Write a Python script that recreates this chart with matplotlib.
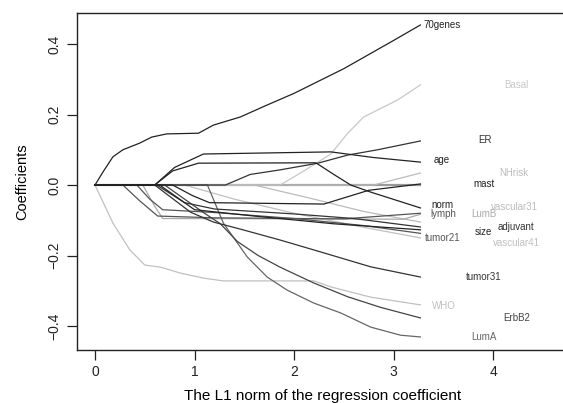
#!/usr/bin/env python
import numpy as np
import matplotlib
matplotlib.use("Agg")
import matplotlib.pyplot as plt

plt.rcParams['font.family'] = ['Liberation Sans', 'DejaVu Sans']

# coefficient paths: (L1 norm, coefficient) knots
genes70 = [(0, 0), (0.08, 0.037), (0.18, 0.08), (0.28, 0.10), (0.45, 0.119), (0.57, 0.136), (0.72, 0.145),
           (1.04, 0.147), (1.19, 0.17), (1.46, 0.193), (1.73, 0.227), (2.0, 0.26), (2.5, 0.33), (3.0, 0.41), (3.27, 0.454)]
basal = [(0, 0), (1.86, 0), (2.1, 0.04), (2.37, 0.088), (2.54, 0.147), (2.7, 0.193), (3.04, 0.241), (3.27, 0.284)]
er = [(0, 0), (1.31, 0), (1.56, 0.03), (1.86, 0.043), (2.24, 0.062), (2.54, 0.085), (2.84, 0.10), (3.27, 0.125)]
age = [(0, 0), (0.6, 0), (0.8, 0.05), (1.09, 0.088), (2.37, 0.094), (2.8, 0.078), (3.27, 0.065)]
nhrisk = [(0, 0), (2.8, 0), (3.27, 0.034)]
mast = [(0, 0), (0.78, 0), (0.98, -0.03), (1.15, -0.05), (2.3, -0.054), (2.75, -0.015), (3.27, 0.003)]
norm = [(0, 0), (0.6, 0), (0.78, 0.04), (1.04, 0.062), (2.22, 0.063), (2.4, 0.03), (2.57, 0.0), (2.77, -0.02), (3.27, -0.065)]
lymph = [(0, 0), (0.28, 0), (0.45, -0.045), (0.63, -0.088), (1.2, -0.093), (2.5, -0.096), (3.27, -0.08)]
lumb = [(0, 0), (0.48, 0), (0.6, -0.06), (0.68, -0.095), (3.1, -0.097), (3.27, -0.083)]
vascular31 = [(0, 0), (1.6, 0), (2.2, -0.04), (2.7, -0.075), (3.27, -0.105)]
adjuvant = [(0, 0), (0.62, 0), (0.9, -0.05), (1.2, -0.068), (2.0, -0.082), (2.6, -0.095), (3.27, -0.119)]
size = [(0, 0), (0.65, 0), (1.0, -0.07), (1.6, -0.088), (2.4, -0.11), (3.27, -0.127)]
tumor21 = [(0, 0), (0.42, 0), (0.55, -0.04), (0.68, -0.07), (1.2, -0.078), (2.0, -0.095), (2.7, -0.115), (3.27, -0.137)]
vascular41 = [(0, 0), (0.9, 0), (1.4, -0.04), (2.0, -0.08), (2.7, -0.12), (3.27, -0.15)]
tumor31 = [(0, 0), (0.6, 0), (0.96, -0.077), (1.19, -0.105), (1.46, -0.125), (1.86, -0.156), (2.27, -0.19),
           (2.77, -0.232), (3.27, -0.261)]
who = [(0, 0), (0.18, -0.108), (0.35, -0.184), (0.5, -0.227), (0.66, -0.233), (0.86, -0.25), (1.09, -0.264),
       (1.29, -0.272), (2.2, -0.272), (2.37, -0.289), (2.77, -0.318), (3.27, -0.34)]
erbb2 = [(0, 0), (0.7, 0), (0.9, -0.04), (1.1, -0.08), (1.26, -0.11), (1.43, -0.16), (1.64, -0.2), (1.86, -0.233),
         (2.2, -0.278), (2.54, -0.317), (2.87, -0.347), (3.27, -0.377)]
luma = [(0, 0), (1.13, 0), (1.29, -0.108), (1.53, -0.204), (1.73, -0.261), (1.93, -0.298), (2.2, -0.335),
        (2.47, -0.363), (2.77, -0.403), (3.07, -0.426), (3.27, -0.431)]
zero = [(0, 0), (3.27, 0)]

names = ['70genes', 'Basal', 'ER', 'age', 'NHrisk', 'mast', 'norm', 'lymph', 'LumB', 'vascular31',
         'adjuvant', 'size', 'tumor21', 'vascular41', 'tumor31', 'WHO', 'ErbB2', 'LumA']
paths = [genes70, basal, er, age, nhrisk, mast, norm, lymph, lumb, vascular31,
         adjuvant, size, tumor21, vascular41, tumor31, who, erbb2, luma]

# label anchor points
label_x = [3.30, 4.11, 3.85, 3.40, 4.06, 3.80, 3.38, 3.37, 3.78, 3.98, 4.05, 3.82, 3.31, 4.00, 3.73, 3.39, 4.10, 3.78]
label_y = [0.454, 0.284, 0.128, 0.071, 0.034, 0.003, -0.056, -0.081, -0.082, -0.062, -0.119, -0.133, -0.150,
           -0.165, -0.261, -0.343, -0.377, -0.431]

colors = ['#222222', '#c8c8c8', '#333333', '#222222', '#bbbbbb', '#222222', '#222222', '#555555', '#aaaaaa',
          '#bbbbbb', '#333333', '#222222', '#555555', '#c0c0c0', '#333333', '#c0c0c0', '#444444', '#666666']

fig = plt.figure(figsize=(5.63, 4.03), dpi=100)
ax = fig.add_axes([77 / 563, 53 / 403, 1.0 - 77 / 563 + 0.01, 337 / 403])

zx, zy = np.array(zero).T
ax.plot(zx, zy, color='#999999', lw=1.6, zorder=1)

order = sorted(range(len(names)), key=lambda i: -int(colors[i][1:3], 16))
for i in order:
    px, py = np.array(paths[i]).T
    ax.plot(px, py, color=colors[i], lw=0.9, zorder=2)
    ax.text(label_x[i], label_y[i], names[i], color=colors[i], fontsize=7, ha='left', va='center')

ax.set_xlim(-0.181, 4.76)
ax.set_ylim(-0.468, 0.488)
ax.set_xticks([0, 1, 2, 3, 4])
ax.set_yticks([-0.4, -0.2, 0.0, 0.2, 0.4])
ax.set_yticklabels(['\u22120.4', '\u22120.2', '0.0', '0.2', '0.4'], rotation=90, va='center')
ax.tick_params(direction='out', length=7, width=0.9, labelsize=10, colors='#222222', pad=4)
for s in ax.spines.values():
    s.set_linewidth(1.0)
    s.set_color('#222222')

ax.set_xlabel('The L1 norm of the regression coefficient', fontsize=11, labelpad=7)
ax.set_ylabel('Coefficients', fontsize=10.5, labelpad=13)

plt.savefig('out.png', dpi=100)
plt.close()
